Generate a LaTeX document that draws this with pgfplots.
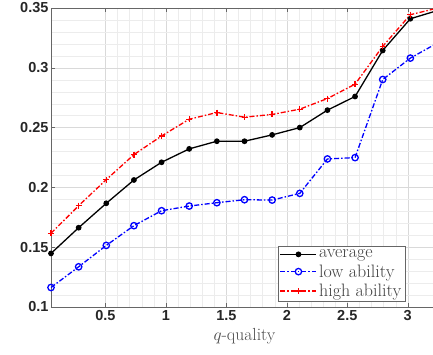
\documentclass[border=0pt]{standalone}
\usepackage{pgfplots}
\pgfplotsset{compat=1.18}
\usepackage{fontspec}
\setsansfont{Liberation Sans}
\definecolor{axgray}{rgb}{0.15,0.15,0.15}
\begin{document}
\begin{tikzpicture}
\begin{axis}[
  scale only axis, width=387pt, height=299pt,
  xmin=0.05, xmax=3.25, ymin=0.1, ymax=0.35,
  xtick={0.5,1,1.5,2,2.5,3}, xticklabels={0.5,1,1.5,2,2.5,3},
  ytick={0.1,0.15,0.2,0.25,0.3,0.35}, yticklabels={0.1,0.15,0.2,0.25,0.3,0.35},
  minor x tick num=4, minor y tick num=4,
  grid=both,
  major grid style={gray!30, line width=0.4pt},
  minor grid style={gray!15, line width=0.3pt},
  tick align=inside, major tick length=4pt, minor tick length=0pt,
  axis line style={black!60, line width=0.7pt},
  tick style={black!60},
  ticklabel style={font=\fontsize{14.5}{16}\selectfont\sffamily\bfseries, text=axgray},
  yticklabel style={xshift=1pt},
  /pgf/number format/assume math mode=true,
  xlabel={$q$-quality}, xlabel style={font=\fontsize{17.5}{19}\selectfont, text=black!70, yshift=-1pt},
  legend cell align=left,
  legend style={at={(0.915,0.017)}, anchor=south east, font=\fontsize{18}{20}\selectfont,
    draw=black!60, line width=0.6pt, fill=white, inner sep=1.5pt, row sep=1.5pt, text=black!75},
  legend image code/.code={\draw[mark repeat=2,mark phase=2,#1] plot coordinates {(0pt,0pt) (18pt,0pt) (36pt,0pt)};},
]
\addplot[black, line width=1.3pt, mark=*, mark size=2.2pt] coordinates {
(0.05,0.1448) (0.2786,0.1663) (0.5071,0.1867) (0.7357,0.2062) (0.9643,0.2210)
(1.1929,0.2322) (1.4214,0.2386) (1.65,0.2386) (1.8786,0.2439) (2.1071,0.2500)
(2.3357,0.2646) (2.5643,0.2760) (2.7929,0.3145) (3.0214,0.3410) (3.25,0.3480)};
\addlegendentry{average}
\addplot[blue, line width=1.3pt, dash pattern=on 5pt off 2pt on 1.5pt off 2pt, mark=o, mark size=3.2pt, mark options={solid}] coordinates {
(0.05,0.1163) (0.2786,0.1336) (0.5071,0.1515) (0.7357,0.1680) (0.9643,0.1805)
(1.1929,0.1844) (1.4214,0.1872) (1.65,0.1897) (1.8786,0.1894) (2.1071,0.1950)
(2.3357,0.2238) (2.5643,0.2249) (2.7929,0.2902) (3.0214,0.3081) (3.25,0.3210)};
\addlegendentry{low ability}
\addplot[red, line width=1.3pt, dash pattern=on 5pt off 2pt on 1.5pt off 2pt, mark=+, mark size=3pt, mark options={solid}] coordinates {
(0.05,0.1616) (0.2786,0.1847) (0.5071,0.2065) (0.7357,0.2274) (0.9643,0.2430)
(1.1929,0.2570) (1.4214,0.2626) (1.65,0.2587) (1.8786,0.2610) (2.1071,0.2654)
(2.3357,0.2743) (2.5643,0.2863) (2.7929,0.3179) (3.0214,0.3444) (3.25,0.3500)};
\addlegendentry{high ability}
\end{axis}
\pgfresetboundingbox
\path[use as bounding box] ([shift={(-51pt,-48pt)}]current axis.south west) rectangle ([shift={(382pt,8pt)}]current axis.north west);
\end{tikzpicture}
\end{document}
